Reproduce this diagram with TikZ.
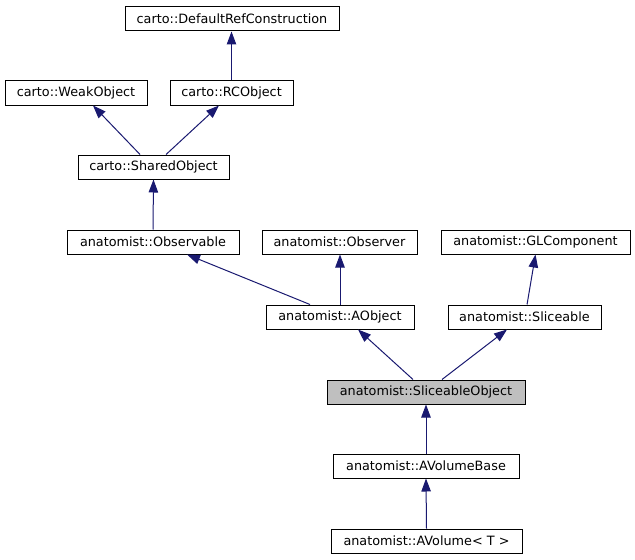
\documentclass[tikz,border=0pt]{standalone}
\usepackage{fontspec}
\setmainfont{DejaVu Sans}
\usetikzlibrary{arrows.meta}
\definecolor{edgeBlue}{HTML}{191970}
\definecolor{boxGray}{HTML}{BFBFBF}
\tikzstyle{boxClass} = [rectangle, minimum height=18pt, inner sep=0pt, line width=0.75pt, draw=black, fill=white, font=\fontsize{9.6}{11}\selectfont]
\tikzstyle{arrow} = [line width=0.75pt, draw=edgeBlue, -{Triangle[length=9.75pt, width=7.1pt, fill=edgeBlue]}]

\begin{document}
\begin{tikzpicture}[x=0.75pt, y=-0.75pt]

\useasboundingbox (0,0) rectangle (635,560);

\node (defref) [boxClass, minimum width=160.5pt] at (232,19) {carto::DefaultRefConstruction};

\node (weak) [boxClass, minimum width=106.5pt] at (76,93) {carto::WeakObject};

\node (rc) [boxClass, minimum width=92.25pt] at (231.5,93) {carto::RCObject};

\node (shared) [boxClass, minimum width=113.25pt] at (153.5,167) {carto::SharedObject};

\node (observable) [boxClass, minimum width=129pt] at (153,242) {anatomist::Observable};

\node (observer) [boxClass, minimum width=116.25pt] at (339.5,242) {anatomist::Observer};

\node (glcomp) [boxClass, minimum width=141.75pt] at (535.5,242) {anatomist::GLComponent};

\node (aobject) [boxClass, minimum width=111pt] at (340,317) {anatomist::AObject};

\node (sliceable) [boxClass, minimum width=114.75pt] at (524.5,317) {anatomist::Sliceable};

\node (sliceobj) [boxClass, fill=boxGray, minimum width=148.5pt] at (426,392) {anatomist::SliceableObject};

\node (avolbase) [boxClass, minimum width=139.5pt] at (426,466) {anatomist::AVolumeBase};

\node (avol) [boxClass, minimum width=143.25pt] at (426.5,541) {anatomist::AVolume< T >};

\draw[arrow] (rc.north) -- (rc.north |- defref.south);
\draw[arrow] ([xshift=-10.1pt]shared.north) -- ([xshift=12.75pt]weak.south);
\draw[arrow] ([xshift=9.4pt]shared.north) -- ([xshift=-9.4pt]rc.south);
\draw[arrow] (observable.north) -- (shared.south);
\draw[arrow] ([xshift=-22.5pt]aobject.north) -- ([xshift=25.5pt]observable.south);
\draw[arrow] (aobject.north) -- (aobject.north |- observer.south);
\draw[arrow] ([xshift=1.9pt]sliceable.north) -- (glcomp.south);
\draw[arrow] ([xshift=-9.75pt]sliceobj.north) -- ([xshift=13.5pt]aobject.south);
\draw[arrow] ([xshift=12pt]sliceobj.north) -- ([xshift=-13.1pt]sliceable.south);
\draw[arrow] (avolbase.north) -- (sliceobj.south);
\draw[arrow] (avol.north) -- (avolbase.south);

\end{tikzpicture}
\end{document}
